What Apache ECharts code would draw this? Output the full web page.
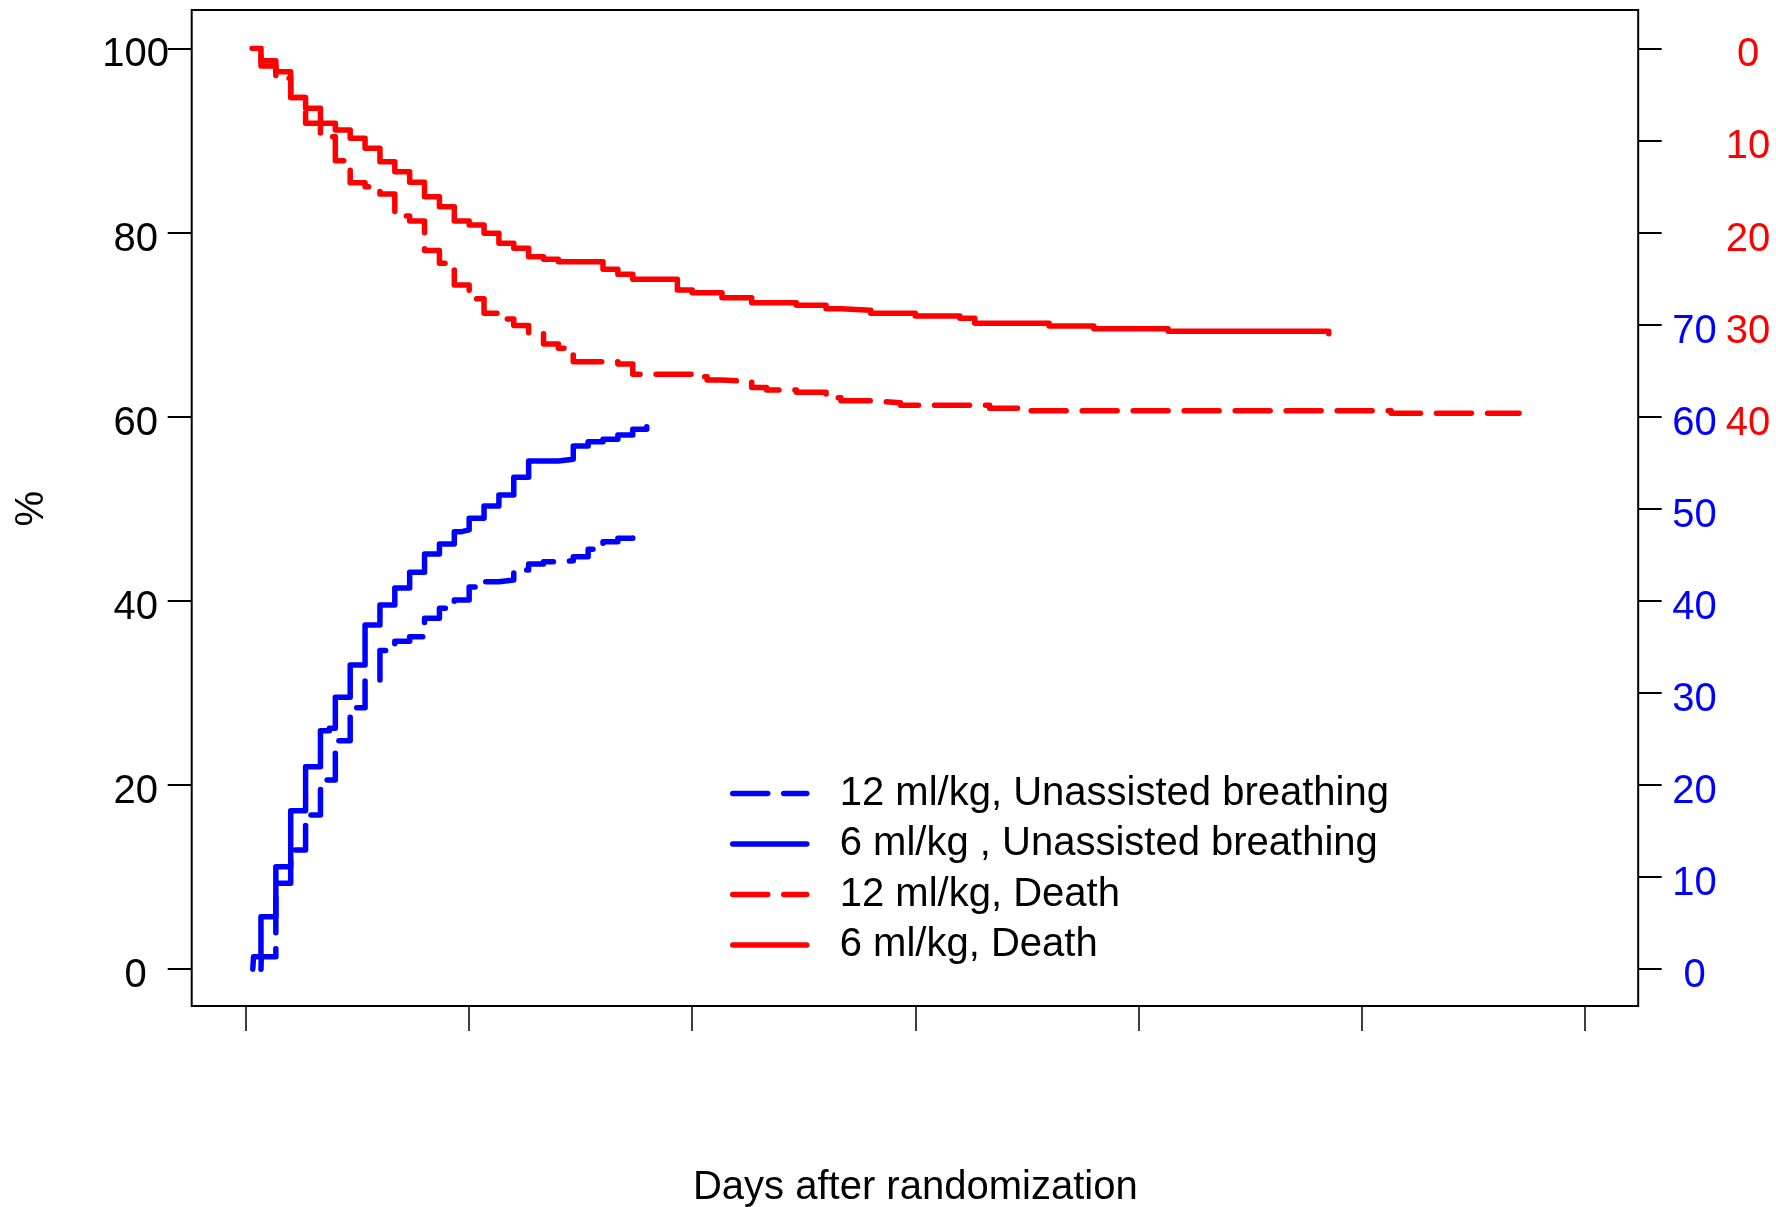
<!DOCTYPE html>
<html>
<head>
<meta charset="utf-8">
<script src="https://cdn.jsdelivr.net/npm/echarts@6/dist/echarts.min.js"></script>
<style>
html,body{margin:0;padding:0;background:#fff;}
#c{width:1776px;height:1207px;}
</style>
</head>
<body>
<div id="c"></div>
<script>
// ---------------- data (x = days after randomization, y = %) ----------------
const seriesNames = [
  '12 ml/kg, Unassisted breathing',
  '6 ml/kg , Unassisted breathing',
  '12 ml/kg, Death',
  '6 ml/kg, Death'
];

// 12 ml/kg, unassisted breathing (blue dashed)
const breath12Days = [1, 1.02, 2, 3, 4, 5, 6, 7, 8, 9, 10, 11, 12, 13, 14, 15, 16, 17, 18, 19, 20, 21, 22, 23, 24, 25, 26, 26.2];
const breath12Pct  = [0, 1.36, 9.33, 12.94, 16.75, 20.54, 24.8, 28.4, 31.4, 34.6, 35.6, 36.11, 38.1, 39.19, 40.09, 41.5, 42.08, 42.27, 43.35, 44.0, 44.25, 44.36, 44.79, 45.6, 46.42, 46.79, 47.15, 47.33];

// 6 ml/kg, unassisted breathing (blue solid)
const breath6Days = [0.45, 0.5, 1, 2, 3, 4, 5, 5.6, 6, 7, 8, 9, 10, 11, 12, 13, 14, 14.5, 15, 16, 17, 18, 19, 21, 22, 23, 24, 25, 26, 26.94];
const breath6Pct  = [0, 1.36, 5.7, 11.13, 17.2, 21.99, 25.9, 26.16, 29.52, 33.03, 37.38, 39.55, 41.4, 43.1, 45.09, 46.17, 47.51, 47.7, 48.96, 50.3, 51.49, 53.41, 55.18, 55.37, 56.81, 57.28, 57.54, 58.01, 58.62, 58.91];

// 12 ml/kg, death (red dashed; plotted as survival)
const death12Days = [0.4, 1, 2, 3, 4, 5, 6, 7, 8, 9, 10, 11, 12, 13, 14, 15, 16, 17, 18, 19, 20, 21, 22, 25, 26, 30, 31, 32, 34, 35, 37, 39, 40, 42, 44, 50, 52, 77, 85.6];
const death12Pct  = [100, 98.08, 96.74, 94.66, 91.85, 90.4, 87.8, 85.4, 84.97, 84.18, 81.79, 81.25, 78.05, 76.65, 74.3, 72.8, 71.22, 70.6, 69.9, 69.05, 67.9, 67.42, 65.97, 65.72, 64.6, 64.34, 63.98, 63.8, 63.18, 62.89, 62.64, 62.06, 61.73, 61.52, 61.23, 60.91, 60.65, 60.36, 60.36];

// 6 ml/kg, death (red solid; plotted as survival)
const death6Days = [0.4, 1, 2, 3, 4, 5, 6, 7, 8, 9, 10, 11, 12, 13, 14, 15, 16, 17, 18, 19, 20, 21, 24, 25, 26, 29, 30, 32, 34, 37, 39, 40, 42, 45, 48, 49, 54, 57, 62, 72.8];
const death6Pct  = [100, 98.66, 97.46, 94.66, 93.48, 91.85, 91.13, 90.22, 89.14, 87.69, 86.6, 85.45, 83.89, 82.8, 81.25, 80.81, 79.91, 78.82, 78.28, 77.37, 77.08, 76.83, 76.0, 75.46, 74.92, 73.75, 73.46, 72.92, 72.38, 72.09, 71.73, 71.55, 71.22, 70.93, 70.68, 70.14, 69.85, 69.55, 69.27, 69.0];

// axis tick labels
const leftTickStep = 20;
const rightTickStep = 10;
const breathTickLabels = [0, 10, 20, 30, 40, 50, 60, 70];
const deathTickLabels = [0, 10, 20, 30, 40];
const xTickStep = 15;

// ---------------- chart ----------------
const FONT = '"Liberation Sans", Arial, Helvetica, sans-serif';
const BLUE = '#0000ff';
const RED = '#ff0000';
const zip = (xs, ys) => xs.map((x, i) => [x, ys[i]]);

const LW = 5.5;
const DASH = [35, 16];
const FS = 40;

function lineSeries(name, xs, ys, color, dashed, dashOffset) {
  return {
    name: name,
    type: 'line',
    step: 'end',
    xAxisIndex: 0,
    yAxisIndex: 0,
    data: zip(xs, ys),
    showSymbol: false,
    symbol: 'none',
    silent: true,
    lineStyle: {
      color: color,
      width: LW,
      type: dashed ? DASH : 'solid',
      dashOffset: dashOffset || 0,
      cap: 'round',
      join: 'round'
    },
    itemStyle: { color: color }
  };
}

const chart = echarts.init(document.getElementById('c'), null, { renderer: 'canvas' });

const tickLabel = (color, margin, formatter) => {
  const o = {
    fontFamily: FONT, fontSize: FS, color: color, align: 'center',
    verticalAlign: 'top', lineHeight: 14, margin: margin
  };
  if (formatter) o.formatter = formatter;
  return o;
};

chart.setOption({
  animation: false,
  backgroundColor: '#ffffff',
  grid: [
    { left: 246.1, right: 191.5, top: 48.3, bottom: 237.8, containLabel: false, outerBoundsMode: 'none' },
    { left: 191.7, right: 137.8, top: 10, bottom: 201, show: true, outerBoundsMode: 'none',
      borderColor: '#000', borderWidth: 2, backgroundColor: 'transparent', z: 0 }
  ],
  legend: {
    orient: 'vertical',
    left: 725,
    top: 768.5,
    padding: 5,
    itemWidth: 74,
    itemHeight: 14,
    itemGap: 10.5,
    selectedMode: false,
    data: seriesNames.map(n => ({ name: n, lineStyle: { dashOffset: 0 } })),
    itemStyle: { opacity: 0 },
    lineStyle: { width: LW, cap: 'round', dashOffset: 0 },
    textStyle: {
      fontFamily: FONT, fontSize: FS, color: '#000', lineHeight: 40,
      padding: [0, 0, 0, 28]
    }
  },
  xAxis: [
    {
      type: 'value', gridIndex: 0, min: 0, max: 90, interval: xTickStep,
      position: 'bottom', offset: 36.8,
      axisLine: { show: false, onZero: false },
      axisTick: { show: true, length: 25, lineStyle: { color: '#000', width: 1.5 } },
      axisLabel: { show: false },
      splitLine: { show: false },
      name: 'Days after randomization',
      nameLocation: 'middle',
      nameGap: 162,
      nameTextStyle: { fontFamily: FONT, fontSize: FS, color: '#000' }
    },
    { type: 'value', gridIndex: 1, show: false, min: 0, max: 1 }
  ],
  yAxis: [
    {
      type: 'value', gridIndex: 0, min: 0, max: 100, interval: leftTickStep,
      position: 'left', offset: 54.4,
      axisLine: { show: false, onZero: false },
      axisTick: { show: true, length: 24, lineStyle: { color: '#000', width: 2 } },
      axisLabel: tickLabel('#000', 56),
      splitLine: { show: false },
      name: '%',
      nameLocation: 'middle',
      nameGap: 140,
      nameTextStyle: { fontFamily: FONT, fontSize: FS, color: '#000' }
    },
    {
      type: 'value', gridIndex: 0, min: 0, max: 100, interval: rightTickStep,
      position: 'right', offset: 53.7,
      axisLine: { show: false, onZero: false },
      axisTick: { show: true, length: 23.5, lineStyle: { color: '#000', width: 2 } },
      axisLabel: tickLabel(BLUE, 56.3, v => breathTickLabels.includes(v) ? String(v) : ''),
      splitLine: { show: false }
    },
    {
      type: 'value', gridIndex: 0, min: 0, max: 100, interval: rightTickStep, inverse: true,
      position: 'right', offset: 53.7,
      axisLine: { show: false, onZero: false },
      axisTick: { show: false },
      axisLabel: tickLabel(RED, 109.8, v => deathTickLabels.includes(v) ? String(v) : ''),
      splitLine: { show: false }
    },
    { type: 'value', gridIndex: 1, show: false, min: 0, max: 1 }
  ],
  series: [
    lineSeries(seriesNames[0], breath12Days, breath12Pct, BLUE, true, 0),
    lineSeries(seriesNames[1], breath6Days, breath6Pct, BLUE, false),
    lineSeries(seriesNames[2], death12Days, death12Pct, RED, true, 35),
    lineSeries(seriesNames[3], death6Days, death6Pct, RED, false)
  ]
});
</script>
</body>
</html>
